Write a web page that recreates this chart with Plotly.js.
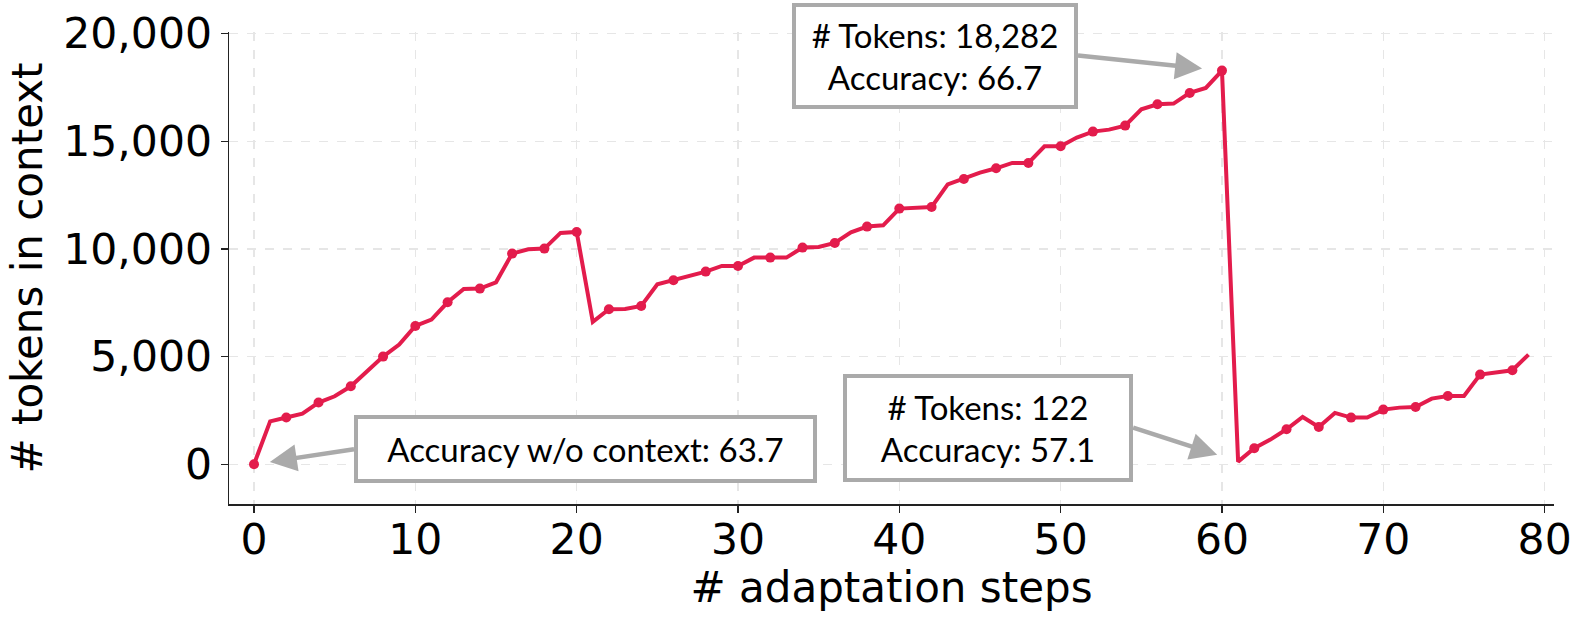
<html>
<head>
<script src="https://cdn.plot.ly/plotly-3.0.1.min.js"></script>
<style>
  body { margin: 0; background: #fff; }
  #chart { width: 1587px; height: 625px; }
</style>
</head>
<body>
<div id="chart"></div>
<script>
// tokens kept in context after each adaptation step
var steps = [];
for (var i = 0; i < 80; i++) steps.push(i);

var tokens = [
  0, 1990, 2169, 2354, 2865, 3158, 3622, 4333, 5000, 5557,
  6424, 6718, 7523, 8142, 8158, 8452, 9783, 9985, 10016, 10743,
  10789, 6610, 7198, 7213, 7353, 8359, 8545, 8731, 8948, 9210,
  9210, 9597, 9597, 9597, 10063, 10094, 10277, 10774, 11038, 11099,
  11873, 11920, 11951, 12995, 13250, 13545, 13746, 13994, 13994, 14768,
  14768, 15171, 15449, 15542, 15728, 16486, 16718, 16749, 17245, 17478,
  18282, 122, 743, 1146, 1625, 2197, 1734, 2384, 2167, 2167,
  2539, 2631, 2662, 3049, 3173, 3173, 4164, 4288, 4365, 5093
];

var xTicks = [0, 10, 20, 30, 40, 50, 60, 70, 80];
var yTicks = [0, 5000, 10000, 15000, 20000];
var yTickText = ['0', '5,000', '10,000', '15,000', '20,000'];

var red = '#e31c4c';
var boxGray = '#aaaaaa';
var noteFont = {family: 'Lato, "Open Sans", sans-serif', size: 33, color: '#000'};

var trace = {
  x: steps,
  y: tokens,
  type: 'scatter',
  mode: 'lines+markers',
  line: {color: red, width: 4},
  // a dot on every second step only
  marker: {
    color: red,
    opacity: 1,
    size: steps.map(function(s) { return s % 2 === 0 ? 10 : 0; }),
    line: {width: 0}
  },
  hoverinfo: 'x+y'
};

var axisCommon = {
  showline: true,
  linecolor: '#222',
  linewidth: 1.5,
  ticks: 'outside',
  ticklen: 7,
  tickwidth: 1.5,
  tickcolor: '#222',
  showgrid: true,
  gridcolor: '#e6e6e6',
  gridwidth: 1.5,
  griddash: 'dash',
  zeroline: false,
  tickfont: {family: '"DejaVu Sans", sans-serif', size: 42.5, color: '#000'}
};

var layout = {
  width: 1587,
  height: 625,
  margin: {l: 228.5, r: 33, t: 31.7, b: 121.3},
  paper_bgcolor: '#fff',
  plot_bgcolor: '#fff',
  showlegend: false,
  xaxis: Object.assign({}, axisCommon, {
    range: [-1.55, 80.58],
    tickvals: xTicks,
    ticktext: xTicks.map(String),
    ticklabelstandoff: -10,
    title: {text: '# adaptation steps', standoff: 4,
            font: {family: '"DejaVu Sans", sans-serif', size: 42, color: '#000'}}
  }),
  yaxis: Object.assign({}, axisCommon, {
    range: [-1845, 20075],
    tickvals: yTicks,
    ticktext: yTickText,
    title: {text: '# tokens in context', standoff: 7,
            font: {family: '"DejaVu Sans", sans-serif', size: 42, color: '#000'}}
  }),
  annotations: [
    {
      x: 60, y: tokens[60], xref: 'x', yref: 'y',
      ax: -144, ay: -15, axref: 'pixel', ayref: 'pixel',
      xanchor: 'right', yanchor: 'middle',
      text: '# Tokens: 18,282<br>Accuracy: 66.7',
      font: noteFont, align: 'center',
      width: 278, height: 98,
      bgcolor: '#fff', bordercolor: boxGray, borderwidth: 4, borderpad: 0,
      showarrow: true, arrowhead: 2, arrowsize: 1.2, arrowwidth: 4.5,
      arrowcolor: boxGray, standoff: 20
    },
    {
      x: 61, y: tokens[61], xref: 'x', yref: 'y',
      ax: -105, ay: -34, axref: 'pixel', ayref: 'pixel',
      xanchor: 'right', yanchor: 'middle',
      text: '# Tokens: 122<br>Accuracy: 57.1',
      font: noteFont, align: 'center',
      width: 282, height: 100,
      bgcolor: '#fff', bordercolor: boxGray, borderwidth: 4, borderpad: 0,
      showarrow: true, arrowhead: 2, arrowsize: 1.2, arrowwidth: 4.5,
      arrowcolor: boxGray, standoff: 22
    },
    {
      x: 0, y: tokens[0], xref: 'x', yref: 'y',
      ax: 100, ay: -15, axref: 'pixel', ayref: 'pixel',
      xanchor: 'left', yanchor: 'middle',
      text: 'Accuracy w/o context: 63.7',
      font: noteFont, align: 'center',
      width: 455, height: 60,
      bgcolor: '#fff', bordercolor: boxGray, borderwidth: 4, borderpad: 0,
      showarrow: true, arrowhead: 2, arrowsize: 1.2, arrowwidth: 4.5,
      arrowcolor: boxGray, standoff: 16
    }
  ]
};

Plotly.newPlot('chart', [trace], layout, {displayModeBar: false, staticPlot: true});
</script>
</body>
</html>
